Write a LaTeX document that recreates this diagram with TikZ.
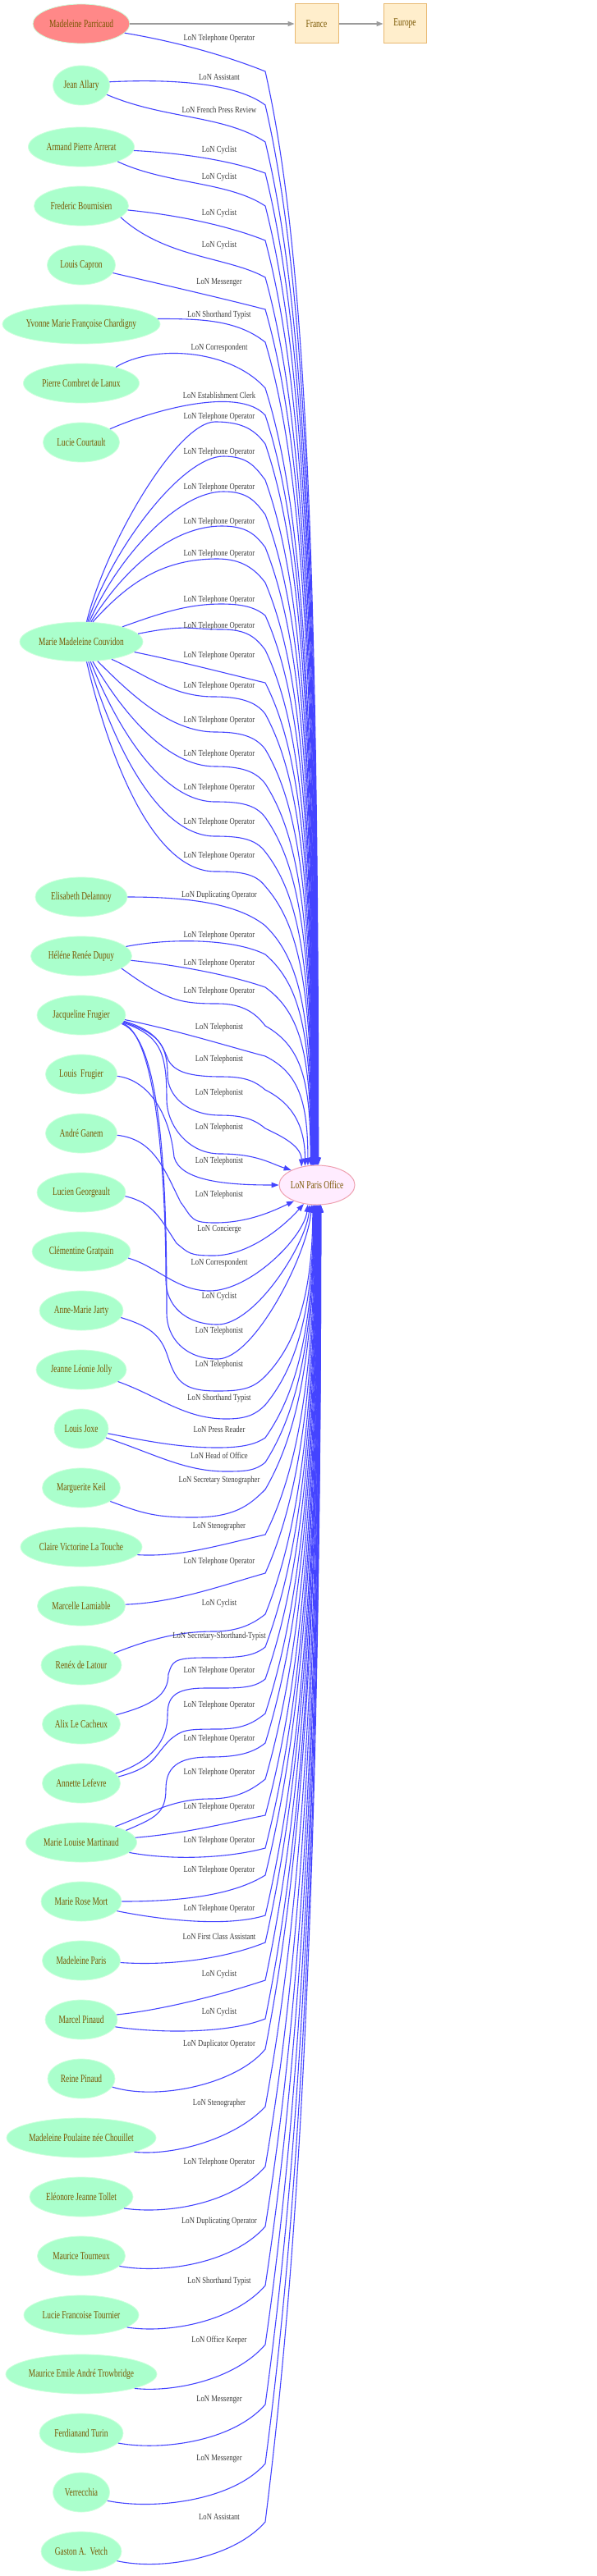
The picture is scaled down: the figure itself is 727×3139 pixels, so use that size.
\documentclass[tikz,border=0pt]{standalone}
\usepackage{fontspec}
\newfontfamily\nodefam{Liberation Serif}[FakeStretch=0.7]
\newfontfamily\labfam{Liberation Serif}[FakeStretch=0.8]
\newcommand\nfont{\nodefam\fontsize{13.4pt}{15pt}\selectfont}
\newcommand\efont{\labfam\fontsize{10.8pt}{12pt}\selectfont}
\usetikzlibrary{arrows.meta,shapes.geometric}
\definecolor{pgreen}{RGB}{170,255,204}
\definecolor{pgreenline}{RGB}{205,255,220}
\definecolor{ptext}{RGB}{120,85,0}
\definecolor{psalmon}{RGB}{255,136,136}
\definecolor{pcream}{RGB}{255,238,204}
\definecolor{pcreamline}{RGB}{232,184,112}
\definecolor{offfill}{RGB}{255,236,255}
\definecolor{offline}{RGB}{238,160,176}
\definecolor{eblue}{RGB}{68,68,255}
\definecolor{egray}{RGB}{155,155,155}
\definecolor{labtext}{RGB}{60,60,60}
\newcounter{labc}
% upper edge: start, segment to kink, kink y, target angle, label y, label
\newcommand\lonU[6]{%
  \pgfmathsetmacro\lonLen{1420-#3}%
  \pgfmathsetmacro\lonA{min(45,0.3*\lonLen)}%
  \pgfmathsetmacro\lonB{0.15*\lonLen}%
  \pgfmathsetmacro\lonC{-0.6*\lonLen}%
  \draw[lonedge] (#1) #2 (323,#3) .. controls +(\lonA,\lonB) and +(0,\lonC) .. (office.#4);
  \stepcounter{labc}%
  \node[lonlab] (lab\thelabc) at (267,#5) {#6};
}
% lower edge
\newcommand\lonL[6]{%
  \pgfmathsetmacro\lonLen{#3-1468}%
  \pgfmathsetmacro\lonA{min(30,0.3*\lonLen)}%
  \pgfmathsetmacro\lonB{-0.15*\lonLen}%
  \pgfmathsetmacro\lonC{0.6*\lonLen}%
  \draw[lonedge] (#1) #2 (323,#3) .. controls +(\lonA,\lonB) and +(0,\lonC) .. (office.#4);
  \stepcounter{labc}%
  \node[lonlab] (lab\thelabc) at (267,#5) {#6};
}
\begin{document}
\begin{tikzpicture}[x=1pt,y=-1pt,
  person/.style={ellipse,fill=pgreen,draw=pgreenline,line width=0.8pt,inner sep=0pt,minimum height=48pt,text=ptext,font=\nfont},
  place/.style={rectangle,fill=pcream,draw=pcreamline,line width=1pt,inner sep=0pt,minimum height=48pt,text=ptext,font=\nfont},
  lonedge/.style={draw=eblue,line width=1.1pt,-{Triangle[length=9pt,width=6.5pt]}},
  grayarrow/.style={draw=egray,line width=1.1pt,-{Triangle[length=8pt,width=6pt]}},
  lonlab/.style={font=\efont,text=labtext,inner sep=0pt}]
\useasboundingbox (0,0) rectangle (727,3139);
\fill[white] (0,0) rectangle (727,3139);

% nodes
\node[person,minimum width=118pt,fill=psalmon] (MP) at (99,29) {Madeleine Parricaud};
\node[place,minimum width=53pt] (France) at (385.5,29) {France};
\node[place,minimum width=52pt] (Europe) at (493,29) {Europe};
\node[ellipse,fill=offfill,draw=offline,line width=1pt,inner sep=0pt,minimum width=92pt,minimum height=48pt,text=ptext,font=\nfont] (office) at (386,1444) {LoN Paris Office};

\node[person,minimum width=69pt] (JA) at (99,104) {Jean Allary};
\node[person,minimum width=129pt] (AA) at (99,179) {Armand Pierre Arrerat};
\node[person,minimum width=115pt] (FB) at (99,251) {Frederic Bournisien};
\node[person,minimum width=83pt] (LC) at (99,323) {Louis Capron};
\node[person,minimum width=192pt] (YC) at (99,395) {Yvonne Marie Françoise Chardigny};
\node[person,minimum width=141pt] (PC) at (99,467) {Pierre Combret de Lanux};
\node[person,minimum width=93pt] (LCo) at (99,539) {Lucie Courtault};
\node[person,minimum width=150pt] (MMC) at (99,782) {Marie Madeleine Couvidon};
\node[person,minimum width=112pt] (ED) at (99,1093) {Elisabeth Delannoy};
\node[person,minimum width=123pt] (HD) at (99,1165) {Héléne Renée Dupuy};
\node[person,minimum width=108pt] (JF) at (99,1237) {Jacqueline Frugier};
\node[person,minimum width=87pt] (LF) at (99,1309) {Louis\ \ Frugier};
\node[person,minimum width=87pt] (AG) at (99,1381) {André Ganem};
\node[person,minimum width=108pt] (LG) at (99,1453) {Lucien Georgeault};
\node[person,minimum width=120pt] (CG) at (99,1525) {Clémentine Gratpain};
\node[person,minimum width=102pt] (AMJ) at (99,1597) {Anne-Marie Jarty};
\node[person,minimum width=110pt] (JLJ) at (99,1669) {Jeanne Léonie Jolly};
\node[person,minimum width=66pt] (LJ) at (99,1741) {Louis Joxe};
\node[person,minimum width=95pt] (MK) at (99,1813) {Marguerite Keil};
\node[person,minimum width=148pt] (CVL) at (99,1885) {Claire Victorine La Touche};
\node[person,minimum width=107pt] (ML) at (99,1957) {Marcelle Lamiable};
\node[person,minimum width=98pt] (RL) at (99,2029) {Renéx de Latour};
\node[person,minimum width=95pt] (ALC) at (99,2101) {Alix Le Cacheux};
\node[person,minimum width=95pt] (AL) at (99,2173) {Annette Lefevre};
\node[person,minimum width=135pt] (MLM) at (99,2245) {Marie Louise Martinaud};
\node[person,minimum width=98pt] (MRM) at (99,2317) {Marie Rose Mort};
\node[person,minimum width=95pt] (MPa) at (99,2389) {Madeleine Paris};
\node[person,minimum width=88pt] (MPi) at (99,2461) {Marcel Pinaud};
\node[person,minimum width=82pt] (RP) at (99,2533) {Reine Pinaud};
\node[person,minimum width=182pt] (MPC) at (99,2605) {Madeleine Poulaine née Chouillet};
\node[person,minimum width=126pt] (EJT) at (99,2677) {Eléonore Jeanne Tollet};
\node[person,minimum width=107pt] (MT) at (99,2749) {Maurice Tourneux};
\node[person,minimum width=140pt] (LFT) at (99,2821) {Lucie Francoise Tournier};
\node[person,minimum width=184pt] (MEAT) at (99,2893) {Maurice Emile André Trowbridge};
\node[person,minimum width=102pt] (FT) at (99,2965) {Ferdianand Turin};
\node[person,minimum width=69pt] (V) at (99,3037) {Verrecchia};
\node[person,minimum width=98pt] (GV) at (99,3109) {Gaston A.\ \ Vetch};

% gray arrows
\draw[grayarrow] (MP.east) -- (France.west);
\draw[grayarrow] (France.east) -- (Europe.west);

% upper edges
\lonU{MP.-12}{.. controls +(60,10) and +(-50,-20) ..}{87}{86}{47}{LoN Telephone Operator}
\lonU{JA.7}{.. controls +(60,-3) and +(-40,-30) ..}{128}{87}{94}{LoN Assistant}
\lonU{JA.-20}{.. controls +(70,30) and +(-50,-33) ..}{173}{88}{134}{LoN French Press Review}
\lonU{AA.-4}{.. controls +(60,3) and +(-40,-15) ..}{211}{89}{183}{LoN Cyclist}
\lonU{AA.-22}{.. controls +(60,28) and +(-45,-30) ..}{251}{90}{216}{LoN Cyclist}
\lonU{FB.-5}{.. controls +(60,6) and +(-45,-18) ..}{293}{91}{260}{LoN Cyclist}
\lonU{FB.-16}{.. controls +(55,50) and +(-45,-25) ..}{338}{92}{299}{LoN Cyclist}
\lonU{LC.-14}{.. controls +(60,14) and +(-50,-13) ..}{377}{93}{344}{LoN Messenger}
\lonU{YC.4}{.. controls +(50,0) and +(-35,-28) ..}{417}{94}{384}{LoN Shorthand Typist}
\lonU{PC.25}{.. controls +(45,-28) and +(-43,-48) ..}{473}{95}{424}{LoN Correspondent}
\lonU{LCo.25}{.. controls +(50,-22) and +(-33,-36) ..}{506}{96}{482}{LoN Establishment Clerk}
\lonU{MMC.75}{.. controls +(25,-100) and +(-45,0) .. (262,514) .. controls +(35,0) and +(-12,-16) ..}{541}{97}{508}{LoN Telephone Operator}
\lonU{MMC.72}{.. controls +(30,-90) and +(-50,0) .. (272,556) .. controls +(30,0) and +(-12,-16) ..}{585}{98}{551}{LoN Telephone Operator}
\lonU{MMC.68}{.. controls +(35,-80) and +(-55,0) .. (272,599) .. controls +(30,0) and +(-12,-16) ..}{627}{98.5}{594}{LoN Telephone Operator}
\lonU{MMC.64}{.. controls +(40,-65) and +(-60,0) .. (270,641) .. controls +(30,0) and +(-12,-16) ..}{667}{99}{636}{LoN Telephone Operator}
\lonU{MMC.60}{.. controls +(45,-50) and +(-65,0) .. (265,681) .. controls +(30,0) and +(-12,-16) ..}{710}{100}{675}{LoN Telephone Operator}
\lonU{MMC.20}{.. controls +(50,-18) and +(-40,0) .. (270,736) .. controls +(30,0) and +(-10,-8) ..}{750}{100.5}{731}{LoN Telephone Operator}
\lonU{MMC.8}{.. controls +(60,-12) and +(-40,0) .. (270,767) .. controls +(30,0) and +(-12,-16) ..}{792}{101}{763}{LoN Telephone Operator}
\lonU{MMC.-11}{.. controls +(50,10) and +(-50,-12) ..}{832}{101.5}{799}{LoN Telephone Operator}
\lonU{MMC.-30}{.. controls +(40,18) and +(-50,0) .. (260,849) .. controls +(30,0) and +(-12,-16) ..}{870}{102}{836}{LoN Telephone Operator}
\lonU{MMC.-50}{.. controls +(40,40) and +(-55,0) .. (262,892) .. controls +(30,0) and +(-12,-16) ..}{913}{102.5}{878}{LoN Telephone Operator}
\lonU{MMC.-60}{.. controls +(35,60) and +(-60,0) .. (262,934) .. controls +(30,0) and +(-12,-16) ..}{955}{103}{919}{LoN Telephone Operator}
\lonU{MMC.-65}{.. controls +(32,80) and +(-65,0) .. (262,977) .. controls +(30,0) and +(-12,-16) ..}{996}{103.5}{960}{LoN Telephone Operator}
\lonU{MMC.-70}{.. controls +(30,100) and +(-70,0) .. (262,1019) .. controls +(30,0) and +(-12,-16) ..}{1038}{104}{1002}{LoN Telephone Operator}
\lonU{MMC.-75}{.. controls +(28,120) and +(-75,0) .. (262,1062) .. controls +(30,0) and +(-12,-16) ..}{1080}{104.5}{1043}{LoN Telephone Operator}
\lonU{ED.0}{.. controls +(70,0) and +(-35,-28) ..}{1128}{105}{1091}{LoN Duplicating Operator}
\lonU{HD.12}{.. controls +(50,-10) and +(-40,-20) ..}{1163}{106}{1140}{LoN Telephone Operator}
\lonU{HD.-5}{.. controls +(60,6) and +(-40,-14) ..}{1203}{107}{1174}{LoN Telephone Operator}
\lonU{HD.-17}{.. controls +(55,40) and +(-45,0) .. (265,1223) .. controls +(30,0) and +(-12,-16) ..}{1250}{108}{1208}{LoN Telephone Operator}
\lonU{JF.-6}{.. controls +(60,12) and +(-45,-12) ..}{1287}{115}{1252}{LoN Telephonist}
\lonU{JF.-8}{.. controls +(40,12) and +(-8,-20) .. (205,1292) .. controls +(8,14) and +(-40,0) .. (270,1312) .. controls +(30,0) and +(-12,-10) ..}{1328}{122}{1291}{LoN Telephonist}
\lonU{JF.-9}{.. controls +(40,14) and +(0,-40) .. (204,1310) .. controls +(0,25) and +(-40,0) .. (268,1359) .. controls +(30,0) and +(-12,-10) ..}{1375}{130}{1332}{LoN Telephonist}

% middle edges
\draw[lonedge] (JF.-10) .. controls +(45,16) and +(0,-60) .. (203,1340) .. controls +(0,30) and +(-40,0) .. (268,1406) .. controls +(45,0) and +(-25,-8) .. (office.150);
\node[lonlab] (lab33) at (267,1374) {LoN Telephonist};
\draw[lonedge] (LF.-3) .. controls +(40,5) and +(-5,-50) .. (212,1410) .. controls +(8,30) and +(-60,0) .. (office.180);
\node[lonlab] (lab34) at (267,1415) {LoN Telephonist};
\draw[lonedge] (AG.-3) .. controls +(45,5) and +(-20,-40) .. (220,1465) .. controls +(15,20) and +(-30,0) .. (262,1490) .. controls +(40,0) and +(-25,12) .. (office.215);
\node[lonlab] (lab35) at (267,1456) {LoN Telephonist};
\draw[lonedge] (LG.-5) .. controls +(35,8) and +(-20,-30) .. (215,1515) .. controls +(15,12) and +(-30,0) .. (260,1530) .. controls +(45,0) and +(-22,25) .. (office.235);
\node[lonlab] (lab36) at (267,1498) {LoN Concierge};
\draw[lonedge] (CG.-8) .. controls +(35,10) and +(-40,0) .. (255,1573) .. controls +(50,0) and +(-5,40) .. (office.245);
\node[lonlab] (lab37) at (267,1539) {LoN Correspondent};
\draw[lonedge] (JF.-11) .. controls +(45,15) and +(0,-100) .. (202,1560) .. controls +(0,30) and +(-40,0) .. (265,1614) .. controls +(45,0) and +(-5,50) .. (office.250);
\node[lonlab] (lab38) at (267,1580) {LoN Cyclist};
\draw[lonedge] (JF.-12) .. controls +(50,18) and +(0,-150) .. (203,1600) .. controls +(0,30) and +(-40,0) .. (265,1656) .. controls +(45,0) and +(-5,60) .. (office.255);
\node[lonlab] (lab39) at (267,1622) {LoN Telephonist};
\setcounter{labc}{39}

% lower edges
\lonL{AMJ.-10}{.. controls +(40,12) and +(-8,-25) .. (205,1655) .. controls +(10,30) and +(-40,0) .. (265,1695) .. controls +(30,0) and +(-15,15) ..}{1677}{258}{1663}{LoN Telephonist}
\lonL{JLJ.-18}{.. controls +(50,18) and +(-50,0) .. (275,1729) .. controls +(25,0) and +(-12,12) ..}{1712}{260}{1704}{LoN Shorthand Typist}
\lonL{LJ.-10}{.. controls +(60,12) and +(-40,0) .. (265,1764) .. controls +(30,0) and +(-12,8) ..}{1752}{261}{1742}{LoN Press Reader}
\lonL{LJ.-20}{.. controls +(60,20) and +(-50,0) .. (275,1793) .. controls +(25,0) and +(-12,10) ..}{1782}{262}{1774}{LoN Head of Office}
\lonL{MK.-25}{.. controls +(40,15) and +(-45,0) .. (235,1849) .. controls +(50,0) and +(-20,20) ..}{1815}{263}{1804}{LoN Secretary Stenographer}
\lonL{CVL.-8}{.. controls +(50,3) and +(-60,14) ..}{1870}{264}{1860}{LoN Stenographer}
\lonL{ML.2}{.. controls +(60,-2) and +(-50,14) ..}{1917}{265}{1903}{LoN Telephone Operator}
\lonL{RL.20}{.. controls +(45,-18) and +(-40,0) .. (260,1988) .. controls +(30,0) and +(-15,12) ..}{1967}{266}{1954}{LoN Cyclist}
\lonL{ALC.15}{.. controls +(45,-12) and +(0,25) .. (205,2040) .. controls +(5,-15) and +(-40,0) .. (250,2020) .. controls +(40,0) and +(-15,12) ..}{2007}{267}{1994}{LoN Secretary-Shorthand-Typist}
\lonL{AL.16}{.. controls +(45,-15) and +(0,30) .. (204,2090) .. controls +(0,-20) and +(-40,0) .. (250,2057) .. controls +(40,0) and +(-15,12) ..}{2046}{268}{2036}{LoN Telephone Operator}
\lonL{AL.10}{.. controls +(45,-12) and +(-20,20) .. (207,2120) .. controls +(15,-12) and +(-40,0) .. (265,2107) .. controls +(30,0) and +(-15,12) ..}{2088}{269}{2078}{LoN Telephone Operator}
\lonL{MLM.15}{.. controls +(35,-15) and +(0,30) .. (202,2180) .. controls +(0,-25) and +(-40,0) .. (255,2141) .. controls +(35,0) and +(-15,12) ..}{2124}{270}{2119}{LoN Telephone Operator}
\lonL{MLM.25}{.. controls +(40,-15) and +(-45,0) .. (255,2192) .. controls +(35,0) and +(-15,12) ..}{2168}{271}{2160}{LoN Telephone Operator}
\lonL{MLM.5}{.. controls +(60,-5) and +(-50,10) ..}{2212}{272}{2202}{LoN Telephone Operator}
\lonL{MLM.-12}{.. controls +(55,10) and +(-45,12) ..}{2252}{273}{2243}{LoN Telephone Operator}
\lonL{MRM.0}{.. controls +(70,0) and +(-40,25) ..}{2285}{274}{2279}{LoN Telephone Operator}
\lonL{MRM.-15}{.. controls +(60,12) and +(-45,14) ..}{2334}{275}{2326}{LoN Telephone Operator}
\lonL{MPa.-3}{.. controls +(60,4) and +(-50,20) ..}{2367}{276}{2360}{LoN First Class Assistant}
\lonL{MPi.8}{.. controls +(60,-6) and +(-45,15) ..}{2413}{276.5}{2406}{LoN Cyclist}
\lonL{MPi.-12}{.. controls +(55,8) and +(-45,18) ..}{2460}{277}{2452}{LoN Cyclist}
\lonL{RP.-15}{.. controls +(55,17) and +(-35,43) ..}{2497}{277.5}{2491}{LoN Duplicator Operator}
\lonL{MPC.-15}{.. controls +(50,5) and +(-35,38) ..}{2567}{278}{2563}{LoN Stenographer}
\lonL{EJT.-15}{.. controls +(55,8) and +(-38,44) ..}{2640}{278.5}{2635}{LoN Telephone Operator}
\lonL{MT.-15}{.. controls +(55,10) and +(-38,44) ..}{2713}{279}{2707}{LoN Duplicating Operator}
\lonL{LFT.-15}{.. controls +(50,8) and +(-38,44) ..}{2785}{279.5}{2780}{LoN Shorthand Typist}
\lonL{MEAT.-15}{.. controls +(45,5) and +(-38,44) ..}{2857}{280}{2852}{LoN Office Keeper}
\lonL{FT.-15}{.. controls +(55,10) and +(-38,44) ..}{2930}{280.5}{2924}{LoN Messenger}
\lonL{V.-18}{.. controls +(60,12) and +(-38,44) ..}{3002}{281}{2996}{LoN Messenger}
\lonL{GV.-15}{.. controls +(55,12) and +(-38,44) ..}{3073}{281.5}{3067}{LoN Assistant}
\end{tikzpicture}
\end{document}
